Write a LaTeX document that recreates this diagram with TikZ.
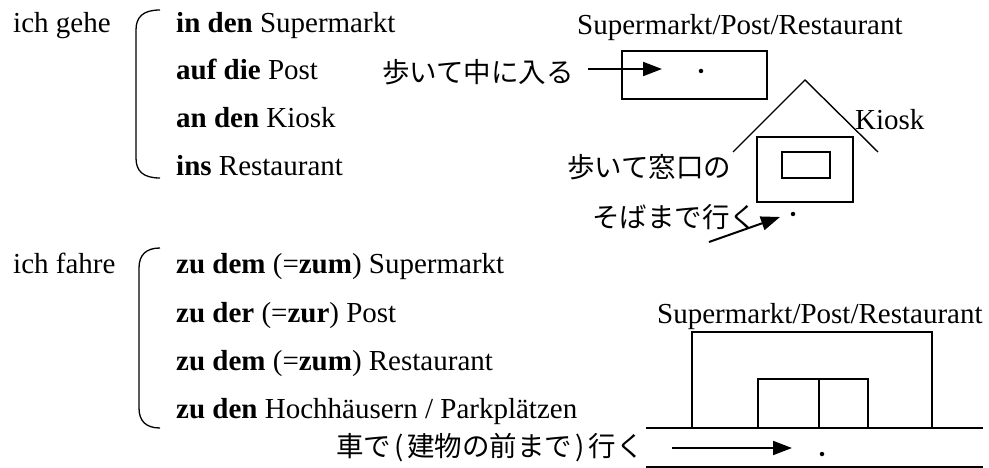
\documentclass[tikz,border=0pt]{standalone}
\usepackage{fontspec}
\setmainfont{Liberation Serif}
\newfontfamily\jp{Noto Sans CJK JP}
\usetikzlibrary{arrows.meta}
\begin{document}
\begin{tikzpicture}[x=1pt,y=-1pt,
  lt/.style={inner sep=0pt, anchor=base west, font=\fontsize{29}{34}\selectfont},
  jt/.style={inner sep=0pt, anchor=west, font=\fontsize{27.5}{32}\selectfont\jp},
  box/.style={draw, line width=1.4pt},
  arr/.style={line width=2pt, -{Triangle[length=19pt,width=14pt]}},
  brace/.style={line width=1.3pt},
  dotn/.style={circle, fill, inner sep=0pt, minimum size=4.5pt},
  road/.style={line width=1.5pt}]
\useasboundingbox (0,0) rectangle (989,468);
% left column, walking
\node[lt] (gehe) at (13,33) {ich gehe};
\node[lt] (g1) at (176,33) {\textbf{in den} Supermarkt};
\node[lt] (g2) at (176,80) {\textbf{auf die} Post};
\node[lt] (g3) at (176,128) {\textbf{an den} Kiosk};
\node[lt] (g4) at (176,176) {\textbf{ins} Restaurant};
% left column, driving
\node[lt] (fahre) at (13,273) {ich fahre};
\node[lt] (f1) at (176,273) {\textbf{zu dem} (=\textbf{zum}) Supermarkt};
\node[lt] (f2) at (176,322) {\textbf{zu der} (=\textbf{zur}) Post};
\node[lt] (f3) at (176,370) {\textbf{zu dem} (=\textbf{zum}) Restaurant};
\node[lt] (f4) at (176,418) {\textbf{zu den} Hochhäusern / Parkplätzen};
% braces
\draw[brace] (160,10) .. controls (143,10) and (136,17) .. (136,30) -- (136,158) .. controls (136,171) and (143,178) .. (160,178);
\draw[brace] (160,248) .. controls (146,248) and (139,255) .. (139,268) -- (139,408) .. controls (139,421) and (146,428) .. (160,428);
% top right: building entered on foot
\node[lt] (spr1) at (577,35) {Supermarkt/Post/Restaurant};
\draw[box] (622,51) rectangle (767,99);
\node[jt] (walkin) at (382,72) {歩いて中に入る};
\coordinate (a1s) at (588,69);
\coordinate (a1e) at (662,69);
\draw[arr] (a1s) -- (a1e);
\node[dotn] (d1) at (701,71) {};
% kiosk
\draw[line width=1.4pt] (733,152) -- (805,80) -- (878,152);
\node[lt] (kiosk) at (855,130) {Kiosk};
\draw[box] (757,137) rectangle (853,202);
\draw[box] (782,152) rectangle (830,178);
\node[jt] (w1) at (567,167) {歩いて窓口の};
\node[jt] (w2) at (592,217) {そばまで行く};
\coordinate (a2s) at (709,242);
\coordinate (a2e) at (780,217);
\draw[arr] (a2s) -- (a2e);
\node[dotn] (d2) at (793,214) {};
% bottom right: driving
\node[lt] (spr2) at (657,323) {Supermarkt/Post/Restaurant};
\draw[box] (692,428) -- (692,332) -- (932,332) -- (932,428);
\draw[box] (758,428) -- (758,379) -- (868,379) -- (868,428);
\draw[box] (819,379) -- (819,428);
\draw[road] (646,428) -- (983,428);
\draw[road] (646,467) -- (983,467);
\node[jt] (car) at (336,448) {車で\kern3.5pt(\kern3.5pt建物の前まで\kern3.5pt)\kern3.5pt行く};
\coordinate (a3s) at (672,448);
\coordinate (a3e) at (792,448);
\draw[arr] (a3s) -- (a3e);
\node[dotn] (d3) at (822,454) {};
\end{tikzpicture}
\end{document}
